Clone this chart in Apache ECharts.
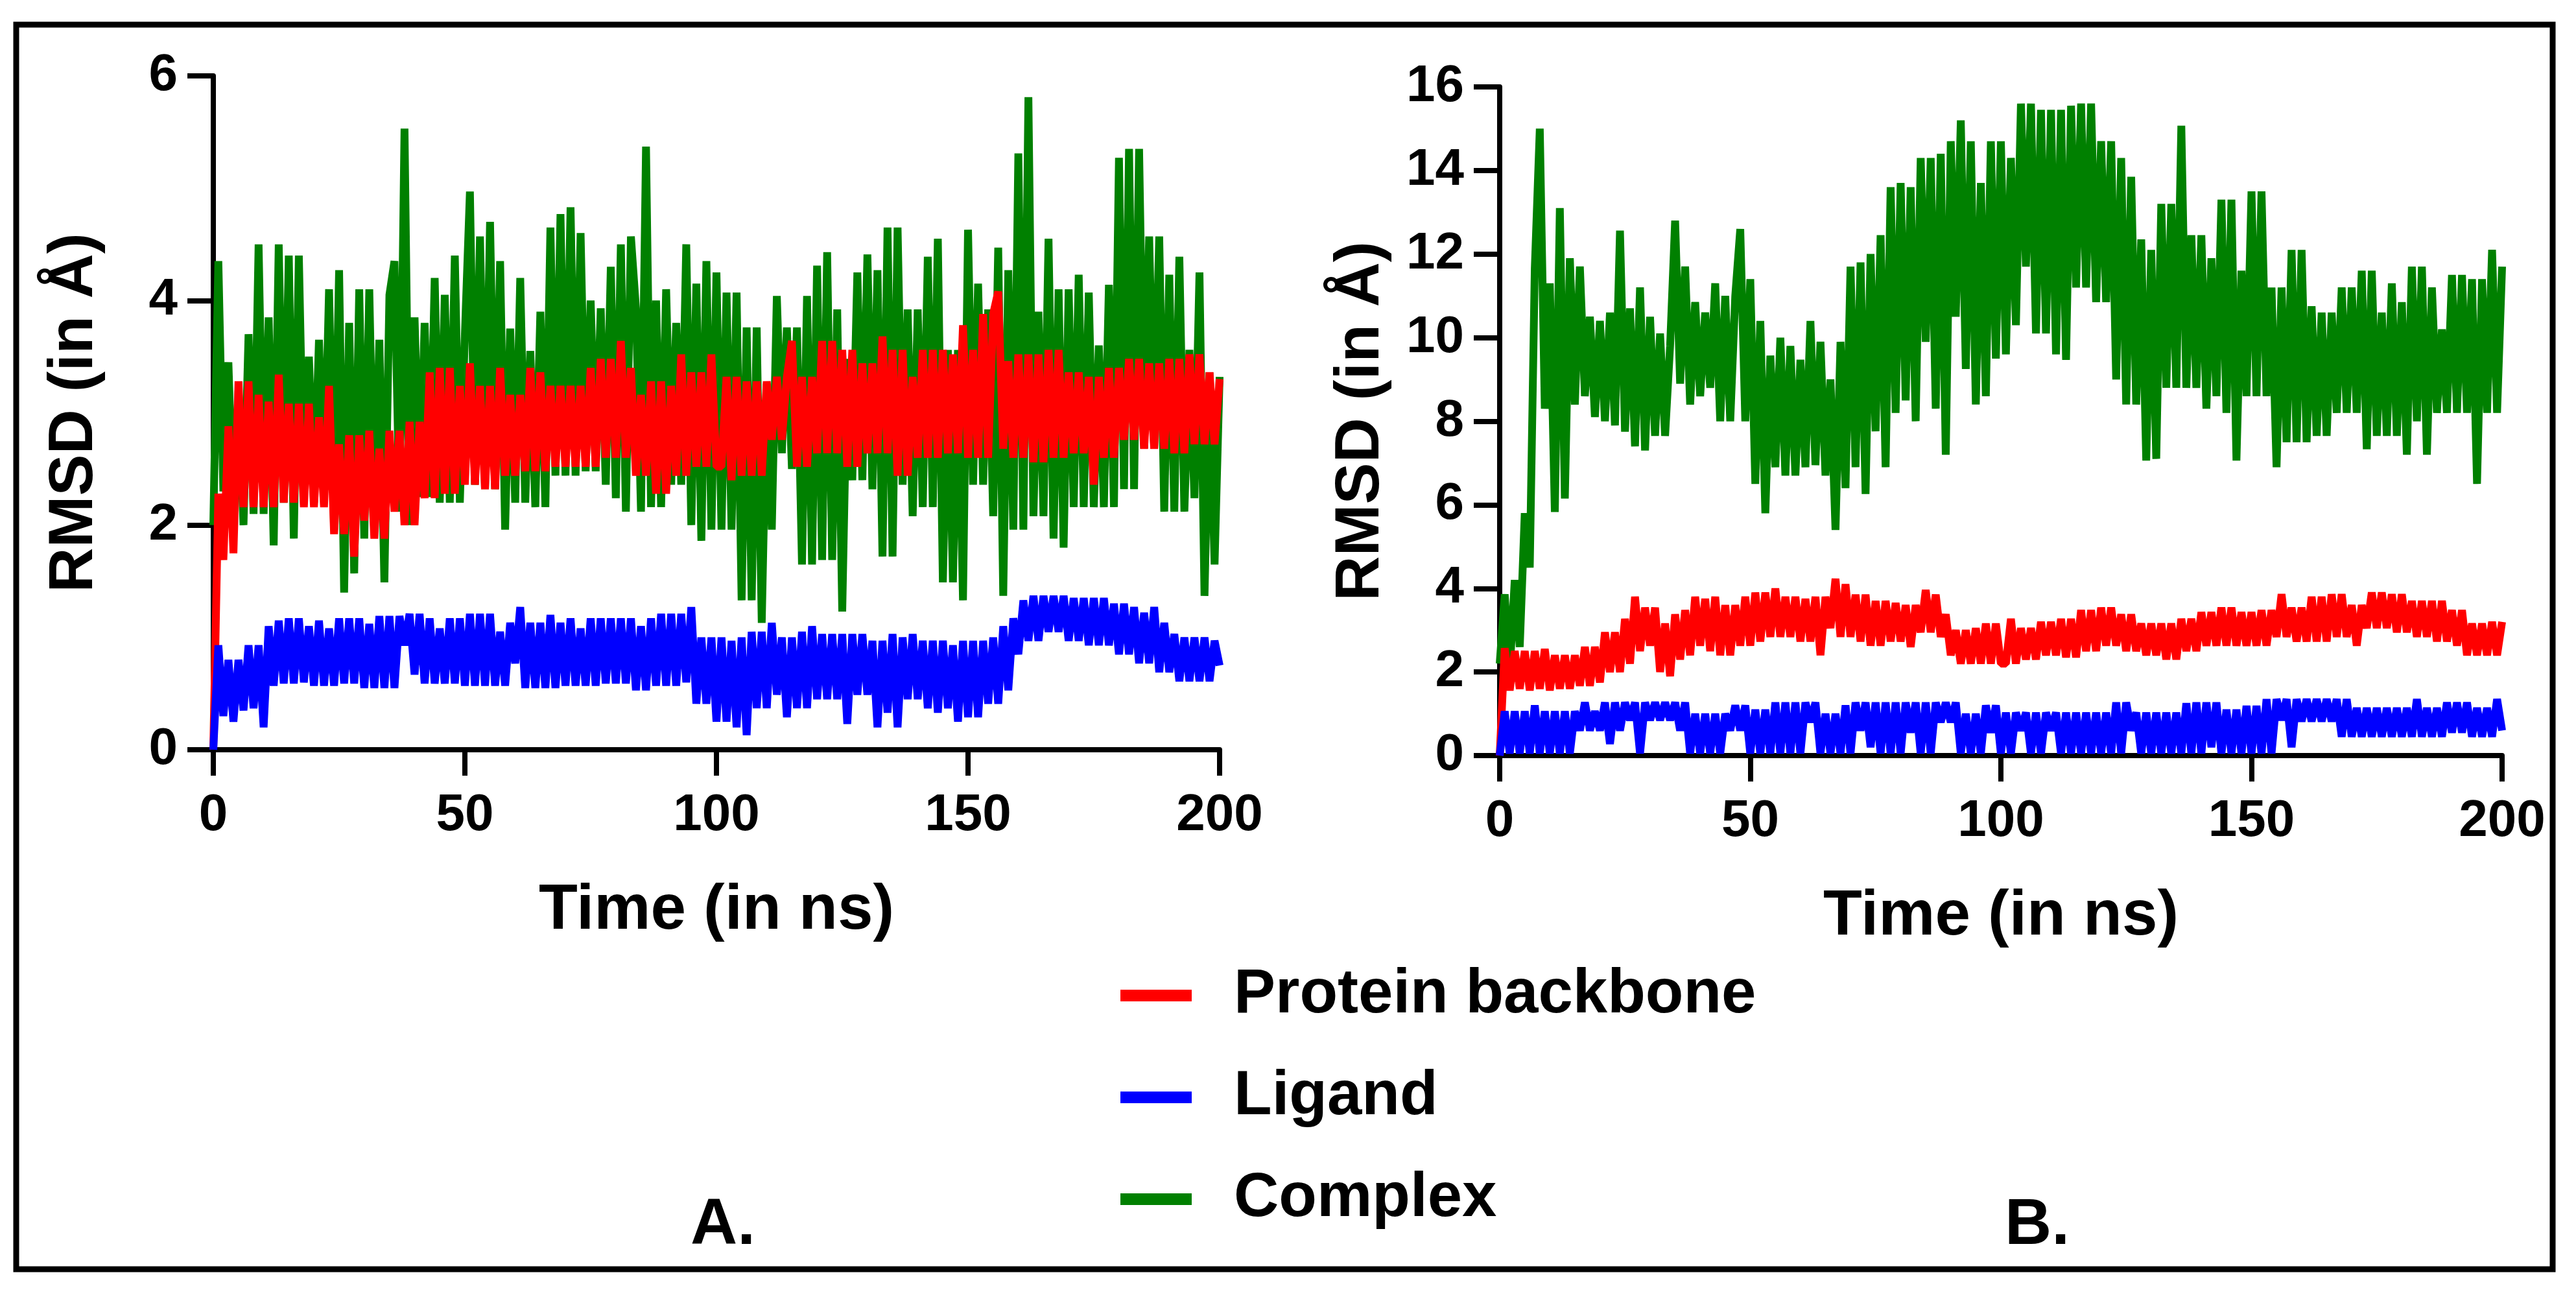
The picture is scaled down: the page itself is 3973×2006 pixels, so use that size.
<!DOCTYPE html>
<meta charset="utf-8">
<title>RMSD</title>
<style>
body { margin: 0; background: #fff; }
#main { width: 3973px; height: 2006px; }
</style>
<body>
<script src="https://cdn.jsdelivr.net/npm/echarts@6/dist/echarts.min.js"></script>
<div id="main"></div>
<script type="text/javascript">
// sampling of every trace: one point per ns, 0..200 ns
var timeStep = 1;

// panel A, RMSD in Å
var complexA = [
  2.0, 4.35, 2.3, 3.45, 2.05, 3.2, 2.0, 3.7, 2.1, 4.5,
  2.1, 3.85, 1.82, 4.5, 2.2, 4.4, 1.88, 4.4, 2.25, 3.5,
  2.2, 3.65, 2.25, 4.1, 1.96, 4.27, 1.4, 3.8, 1.57, 4.1,
  1.88, 4.1, 1.95, 3.65, 1.49, 4.05, 4.35, 2.12, 5.53, 2.0,
  3.85, 2.25, 3.8, 2.25, 4.2, 2.2, 4.05, 2.2, 4.4, 2.2,
  3.7, 4.97, 2.36, 4.57, 2.32, 4.7, 2.32, 4.35, 1.96, 3.75,
  2.2, 4.2, 2.2, 3.55, 2.16, 3.9, 2.16, 4.65, 2.44, 4.77,
  2.44, 4.83, 2.44, 4.6, 2.48, 4.0, 2.48, 3.93, 2.36, 4.3,
  2.24, 4.5, 2.12, 4.57, 3.93, 2.12, 5.37, 2.16, 4.0, 2.16,
  4.1, 2.36, 3.8, 2.36, 4.5, 2.0, 4.15, 1.86, 4.35, 1.96,
  4.25,
  1.96, 4.07, 1.96, 4.07, 1.33, 3.76, 1.33, 3.76, 1.13, 3.26,
  1.96, 4.04, 2.64, 3.76, 2.5, 3.76, 1.65, 4.04, 1.65, 4.31,
  1.69, 4.43, 1.69, 3.92, 1.23, 3.48, 2.4, 4.25, 2.4, 4.41,
  2.32, 4.27, 1.72, 4.65, 1.72, 4.65, 2.36, 3.92, 2.08, 3.92,
  2.16, 4.39, 2.16, 4.55, 1.49, 3.56, 1.49, 3.56, 1.33, 4.63,
  2.36, 4.15, 2.36, 3.92, 2.08, 4.47, 1.37, 4.27, 1.96, 5.31,
  1.96, 5.81, 2.08, 3.9, 2.08, 4.55, 1.88, 4.1, 1.8, 4.1,
  2.16, 4.23, 2.16, 4.07, 2.16, 3.6, 2.16, 4.14, 2.16, 5.27,
  2.32, 5.35, 2.32, 5.35, 2.68, 4.57, 2.68, 4.57, 2.12, 4.23,
  2.12, 4.39, 2.12, 3.56, 2.24, 4.25, 1.37, 3.36, 1.65, 3.32
];
var proteinA = [
  0.0, 2.28, 1.69, 2.88, 1.75, 3.28, 2.16, 3.28, 2.16, 3.16,
  2.16, 3.1, 2.16, 3.34, 2.2, 3.08, 2.2, 3.08, 2.16, 3.08,
  2.16, 2.96, 2.16, 3.24, 1.92, 2.72, 1.92, 2.8, 1.72, 2.8,
  2.04, 2.84, 1.88, 2.68, 1.88, 2.84, 2.12, 2.84, 2.0, 2.92,
  2.0, 2.92, 2.24, 3.36, 2.24, 3.4, 2.28, 3.4, 2.28, 3.24,
  2.36, 3.44, 2.36, 3.24, 2.32, 3.24, 2.32, 3.4, 2.44, 3.16,
  2.44, 3.16, 2.48, 3.4, 2.48, 3.36, 2.48, 3.24, 2.52, 3.24,
  2.52, 3.24, 2.52, 3.24, 2.52, 3.4, 2.52, 3.48, 2.6, 3.48,
  2.6, 3.64, 2.6, 3.4, 2.44, 3.16, 2.44, 3.28, 2.28, 3.28,
  2.28, 3.24, 2.44, 3.52, 2.44, 3.36, 2.52, 3.36, 2.52, 3.52,
  2.52,
  2.52, 3.32, 2.4, 3.32, 2.44, 3.28, 2.44, 3.28, 2.44, 3.28,
  2.76, 3.32, 2.76, 3.32, 3.64, 2.52, 3.32, 2.52, 3.32, 2.64,
  3.64, 2.64, 3.64, 2.64, 3.56, 2.52, 3.56, 2.52, 3.44, 2.64,
  3.44, 2.64, 3.68, 2.64, 3.56, 2.44, 3.56, 2.44, 3.32, 2.6,
  3.56, 2.6, 3.56, 2.6, 3.56, 2.64, 3.52, 2.64, 3.78, 2.6,
  3.56, 2.6, 3.88, 2.6, 3.88, 4.08, 2.68, 3.46, 2.6, 3.52,
  2.6, 3.52, 2.56, 3.52, 2.56, 3.56, 2.6, 3.56, 2.6, 3.36,
  2.64, 3.36, 2.64, 3.32, 2.36, 3.32, 2.6, 3.4, 2.6, 3.4,
  2.76, 3.48, 2.76, 3.48, 2.68, 3.44, 2.68, 3.44, 2.68, 3.48,
  2.64, 3.48, 2.64, 3.52, 2.72, 3.52, 2.72, 3.36, 2.72, 3.3
];
var ligandA = [
  0.0, 0.93, 0.3, 0.8, 0.25, 0.8, 0.35, 0.93, 0.37, 0.93,
  0.2, 1.1, 0.57, 1.15, 0.59, 1.17, 0.59, 1.17, 0.6, 1.1,
  0.57, 1.15, 0.57, 1.08, 0.57, 1.17, 0.59, 1.17, 0.59, 1.17,
  0.55, 1.12, 0.55, 1.19, 0.55, 1.19, 0.55, 1.19, 0.93, 1.21,
  0.67, 1.21, 0.59, 1.17, 0.59, 1.08, 0.59, 1.17, 0.59, 1.17,
  0.57, 1.21, 0.57, 1.21, 0.57, 1.21, 0.57, 1.05, 0.57, 1.13,
  0.77, 1.27, 0.55, 1.13, 0.55, 1.13, 0.55, 1.2, 0.55, 1.13,
  0.57, 1.17, 0.57, 1.08, 0.57, 1.17, 0.57, 1.17, 0.59, 1.17,
  0.59, 1.17, 0.59, 1.17, 0.53, 1.1, 0.53, 1.17, 0.57, 1.21,
  0.57, 1.21, 0.57, 1.21, 0.6, 1.27, 0.41, 1.0, 0.41, 1.0,
  0.25,
  1.0, 0.25, 0.97, 0.2, 1.0, 0.13, 1.05, 0.37, 1.05, 0.37,
  1.13, 0.49, 1.0, 0.29, 1.0, 0.37, 1.05, 0.37, 1.1, 0.45,
  1.03, 0.45, 1.03, 0.45, 1.03, 0.23, 1.03, 0.49, 1.03, 0.49,
  0.97, 0.2, 0.97, 0.33, 1.03, 0.2, 1.0, 0.45, 1.03, 0.45,
  0.97, 0.37, 0.97, 0.33, 0.97, 0.37, 0.93, 0.25, 0.97, 0.29,
  0.97, 0.29, 0.97, 0.41, 1.0, 0.41, 1.1, 0.53, 1.17, 0.85,
  1.33, 0.97, 1.37, 0.97, 1.37, 1.05, 1.37, 1.05, 1.37, 0.97,
  1.35, 0.97, 1.35, 0.93, 1.35, 0.93, 1.35, 0.93, 1.3, 0.85,
  1.3, 0.85, 1.27, 0.77, 1.22, 0.77, 1.27, 0.69, 1.13, 0.69,
  1.03, 0.61, 1.0, 0.61, 1.0, 0.61, 1.0, 0.61, 0.97, 0.75
];

// panel B, RMSD in Å
var complexB = [
  2.2, 3.86, 2.0, 4.2, 2.6, 5.8, 4.5, 11.65, 15.0, 8.3,
  11.3, 5.83, 13.1, 6.15, 11.9, 8.4, 11.7, 8.6, 10.5, 8.1,
  10.4, 8.0, 10.6, 7.9, 12.56, 7.75, 10.7, 7.4, 11.2, 7.3,
  10.5, 7.65, 10.1, 7.65, 9.8, 12.8, 8.9, 11.7, 8.4, 10.85,
  8.6, 10.6, 8.8, 11.3, 8.0, 11.0, 8.0, 11.0, 12.6, 8.0,
  11.4, 6.5, 10.4, 5.8, 9.57, 6.9, 10.0, 6.7, 9.8, 6.7,
  9.47, 6.9, 10.4, 6.95, 9.9, 6.7, 9.0, 5.4, 9.9, 6.4,
  11.7, 6.9, 11.8, 6.26, 12.0, 7.76, 12.45, 6.9, 13.6, 8.2,
  13.7, 8.5, 13.6, 8.0, 14.3, 9.9, 14.3, 8.3, 14.4, 7.2,
  14.7, 10.5, 15.2, 9.25, 14.7, 8.4, 13.7, 8.6, 14.7, 9.5,
  14.7,
  9.6, 14.3, 10.3, 15.6, 11.7, 15.6, 10.1, 15.45, 10.1, 15.45,
  9.6, 15.45, 9.47, 15.55, 11.2, 15.6, 11.2, 15.6, 10.85, 14.7,
  10.85, 14.7, 9.0, 14.3, 8.4, 13.85, 8.4, 12.35, 7.06, 12.1,
  7.1, 13.2, 8.8, 13.2, 8.8, 15.07, 8.8, 12.45, 8.8, 12.45,
  8.3, 11.9, 8.6, 13.3, 8.2, 13.3, 7.06, 11.6, 8.6, 13.5,
  8.6, 13.5, 8.6, 11.2, 6.9, 11.2, 7.5, 12.1, 7.5, 12.1,
  7.5, 10.75, 7.65, 10.6, 7.65, 10.6, 8.2, 11.2, 8.2, 11.2,
  8.2, 11.6, 7.33, 11.6, 7.65, 10.6, 7.65, 11.3, 7.65, 10.85,
  7.2, 11.7, 8.0, 11.7, 7.2, 11.2, 8.2, 10.2, 8.2, 11.5,
  8.2, 11.5, 8.2, 11.4, 6.5, 11.4, 8.2, 12.1, 8.2, 11.7
];
var proteinB = [
  0.0, 2.57, 1.56, 2.5, 1.6, 2.5, 1.56, 2.5, 1.6, 2.55,
  1.56, 2.4, 1.6, 2.4, 1.6, 2.4, 1.67, 2.6, 1.67, 2.6,
  1.75, 2.95, 2.0, 2.95, 2.0, 3.27, 2.2, 3.8, 2.5, 3.54,
  2.63, 3.54, 2.0, 3.16, 1.9, 3.38, 2.3, 3.48, 2.4, 3.8,
  2.63, 3.75, 2.5, 3.8, 2.4, 3.6, 2.4, 3.6, 2.63, 3.8,
  2.63, 3.9, 2.73, 3.9, 2.84, 4.0, 2.84, 3.8, 2.84, 3.8,
  2.73, 3.75, 2.73, 3.8, 2.4, 3.8, 3.05, 4.23, 2.84, 4.1,
  2.84, 3.85, 2.73, 3.85, 2.63, 3.7, 2.63, 3.7, 2.73, 3.65,
  2.73, 3.6, 2.6, 3.6, 2.95, 3.96, 2.95, 3.85, 2.84, 3.38,
  2.4, 3.0, 2.2, 3.0, 2.2, 3.05, 2.2, 3.16, 2.2, 3.16,
  2.2,
  2.2, 3.27, 2.2, 3.05, 2.3, 3.05, 2.3, 3.2, 2.4, 3.2,
  2.4, 3.27, 2.35, 3.27, 2.35, 3.48, 2.5, 3.48, 2.5, 3.54,
  2.63, 3.54, 2.63, 3.38, 2.5, 3.38, 2.5, 3.16, 2.4, 3.16,
  2.4, 3.16, 2.3, 3.16, 2.3, 3.27, 2.5, 3.27, 2.5, 3.43,
  2.63, 3.43, 2.63, 3.54, 2.63, 3.54, 2.63, 3.43, 2.63, 3.43,
  2.63, 3.48, 2.63, 3.48, 2.84, 3.86, 2.84, 3.54, 2.73, 3.54,
  2.73, 3.8, 2.73, 3.8, 2.73, 3.86, 2.84, 3.86, 2.84, 3.6,
  2.63, 3.6, 3.05, 3.9, 3.05, 3.9, 3.05, 3.86, 2.95, 3.86,
  2.95, 3.7, 2.84, 3.7, 2.84, 3.7, 2.73, 3.7, 2.73, 3.48,
  2.63, 3.48, 2.4, 3.16, 2.4, 3.16, 2.4, 3.2, 2.4, 3.2
];
var ligandB = [
  0.0, 1.06, 0.05, 1.06, 0.05, 1.06, 0.05, 1.2, 0.05, 1.06,
  0.05, 1.06, 0.05, 1.06, 0.05, 1.06, 0.6, 1.27, 0.6, 1.06,
  0.6, 1.27, 0.28, 1.27, 0.6, 1.27, 0.85, 1.27, 0.05, 1.27,
  0.85, 1.27, 0.85, 1.27, 0.85, 1.27, 0.6, 1.27, 0.05, 1.0,
  0.05, 1.0, 0.05, 1.0, 0.05, 1.0, 0.6, 1.2, 0.6, 1.2,
  0.05, 1.1, 0.05, 1.1, 0.05, 1.27, 0.05, 1.27, 0.05, 1.27,
  0.05, 1.27, 0.8, 1.27, 0.05, 1.0, 0.05, 1.0, 0.05, 1.2,
  0.05, 1.27, 0.6, 1.27, 0.2, 1.27, 0.05, 1.27, 0.05, 1.27,
  0.05, 1.27, 0.55, 1.27, 0.05, 1.27, 0.05, 1.27, 0.8, 1.27,
  0.8, 1.27, 0.05, 1.0, 0.05, 1.0, 0.05, 1.2, 0.55, 1.2,
  0.05,
  1.03, 0.05, 1.03, 0.6, 1.03, 0.05, 1.03, 0.05, 1.03, 0.6,
  1.03, 0.05, 1.03, 0.05, 1.03, 0.05, 1.03, 0.05, 1.03, 0.05,
  1.03, 0.05, 1.27, 0.05, 1.27, 0.6, 1.03, 0.05, 1.03, 0.05,
  1.03, 0.05, 1.03, 0.05, 1.03, 0.05, 1.25, 0.05, 1.27, 0.05,
  1.27, 0.2, 1.27, 0.05, 1.1, 0.05, 1.1, 0.05, 1.19, 0.05,
  1.19, 0.05, 1.35, 0.05, 1.35, 0.85, 1.35, 0.2, 1.35, 0.82,
  1.35, 0.82, 1.35, 0.82, 1.35, 0.82, 1.35, 0.45, 1.35, 0.45,
  1.14, 0.45, 1.14, 0.45, 1.14, 0.45, 1.14, 0.45, 1.14, 0.45,
  1.14, 0.45, 1.35, 0.45, 1.14, 0.45, 1.14, 0.45, 1.27, 0.55,
  1.27, 0.55, 1.27, 0.45, 1.14, 0.45, 1.14, 0.45, 1.35, 0.6
];

var xTicks = [0, 50, 100, 150, 200];
var legendNames = ['Protein backbone', 'Ligand', 'Complex'];
var panelLabels = ['A.', 'B.'];

var FONT = 'Liberation Sans';
var RED = '#ff0000', BLUE = '#0000ff', GREEN = '#008000';

function pairs(vals) {
  return vals.map(function (v, i) { return [i * timeStep, v]; });
}

function xAxisFor(idx) {
  return {
    type: 'value', gridIndex: idx,
    min: xTicks[0], max: xTicks[xTicks.length - 1], interval: 50,
    name: 'Time (in ns)', nameLocation: 'middle', nameGap: 200,
    nameTextStyle: { fontFamily: FONT, fontWeight: 'bold', fontSize: 98, color: '#000' },
    axisLine: { show: true, lineStyle: { color: '#000', width: 8 } },
    axisTick: { show: true, length: 40, lineStyle: { color: '#000', width: 8 } },
    axisLabel: { fontFamily: FONT, fontWeight: 'bold', fontSize: 80, color: '#000', margin: 62,
                 showMinLabel: true, showMaxLabel: true },
    splitLine: { show: false }
  };
}

function yAxisFor(idx, max) {
  return {
    type: 'value', gridIndex: idx,
    min: 0, max: max, interval: 2,
    name: 'RMSD (in Å)', nameLocation: 'middle', nameGap: 165, nameRotate: 90,
    nameTextStyle: { fontFamily: FONT, fontWeight: 'bold', fontSize: 96, color: '#000' },
    axisLine: { show: true, lineStyle: { color: '#000', width: 8 } },
    axisTick: { show: true, length: 40, lineStyle: { color: '#000', width: 8 } },
    axisLabel: { fontFamily: FONT, fontWeight: 'bold', fontSize: 80, color: '#000', margin: 55,
                 showMinLabel: true, showMaxLabel: true },
    splitLine: { show: false }
  };
}

// thick strokes so the dense 1 ns zigzag reads as the solid band of the original
function trace(name, color, vals, idx) {
  return {
    name: name, type: 'line', xAxisIndex: idx, yAxisIndex: idx,
    data: pairs(vals), showSymbol: false, symbol: 'none',
    lineStyle: { color: color, width: 12 }, itemStyle: { color: color },
    animation: false
  };
}

var myChart = echarts.init(document.getElementById('main'));

var option = {
  backgroundColor: '#ffffff',
  animation: false,
  grid: [
    { left: 329, top: 117, width: 1552, height: 1039 },
    { left: 2313, top: 134, width: 1546, height: 1031 }
  ],
  xAxis: [xAxisFor(0), xAxisFor(1)],
  yAxis: [yAxisFor(0, 6), yAxisFor(1, 16)],
  legend: {
    data: legendNames, orient: 'vertical', left: 1723, top: 1480,
    icon: 'rect', itemWidth: 110, itemHeight: 18, itemGap: 57,
    selectedMode: false,
    textStyle: { fontFamily: FONT, fontWeight: 'bold', fontSize: 96, color: '#000',
                 lineHeight: 100, padding: [0, 0, 0, 60] }
  },
  title: [
    { text: panelLabels[0], left: 1115, top: 1840, textAlign: 'center', padding: 0,
      textStyle: { fontFamily: FONT, fontWeight: 'bold', fontSize: 100, color: '#000' } },
    { text: panelLabels[1], left: 3142, top: 1840, textAlign: 'center', padding: 0,
      textStyle: { fontFamily: FONT, fontWeight: 'bold', fontSize: 100, color: '#000' } }
  ],
  graphic: [{
    type: 'rect', silent: true,
    shape: { x: 25, y: 38, width: 3912, height: 1919 },
    style: { fill: 'none', stroke: '#000', lineWidth: 9 }
  }],
  series: [
    trace('Complex', GREEN, complexA, 0),
    trace('Protein backbone', RED, proteinA, 0),
    trace('Ligand', BLUE, ligandA, 0),
    trace('Complex', GREEN, complexB, 1),
    trace('Protein backbone', RED, proteinB, 1),
    trace('Ligand', BLUE, ligandB, 1)
  ]
};

myChart.setOption(option);
</script>
</body>
